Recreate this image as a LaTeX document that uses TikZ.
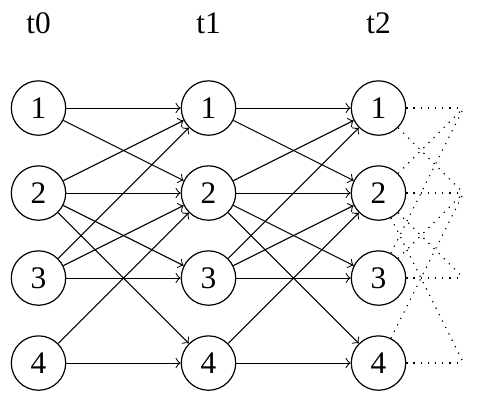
\documentclass[tikz,border=0pt]{standalone}
\usepackage{fontspec}
\setmainfont{Liberation Serif}
\begin{document}
\begin{tikzpicture}[
  st/.style={circle,draw,minimum size=0.64cm,inner sep=0pt,font=\fontsize{10.5}{12}\selectfont},
  lab/.style={inner sep=0pt,font=\fontsize{10.5}{12}\selectfont},
  arr/.style={->,line width=0.35pt},
  dots/.style={dotted,line width=0.4pt}
]
\useasboundingbox (-0.453,-3.435) rectangle (5.194,1.271);
\foreach \c/\x in {0/0,1/2,2/4}{
  \node[lab] (t\c) at (\x,1) {t\c};
  \foreach \r in {1,2,3,4}{
    \node[st] (n\c\r) at (\x,{1-\r}) {\r};
  }
}
\foreach \r in {1,2,3,4}{
  \coordinate (e\r) at (5,{1-\r});
}
\foreach \a/\b in {0/1,1/2}{
  \foreach \s/\d in {1/1,1/2,2/1,2/2,2/3,2/4,3/1,3/2,3/3,4/2,4/4}{
    \draw[arr] (n\a\s) -- (n\b\d);
  }
}
\foreach \s/\d in {1/1,1/2,2/1,2/2,2/3,2/4,3/1,3/2,3/3,4/2,4/4}{
  \draw[dots] (n2\s) -- (e\d);
}
\end{tikzpicture}
\end{document}
